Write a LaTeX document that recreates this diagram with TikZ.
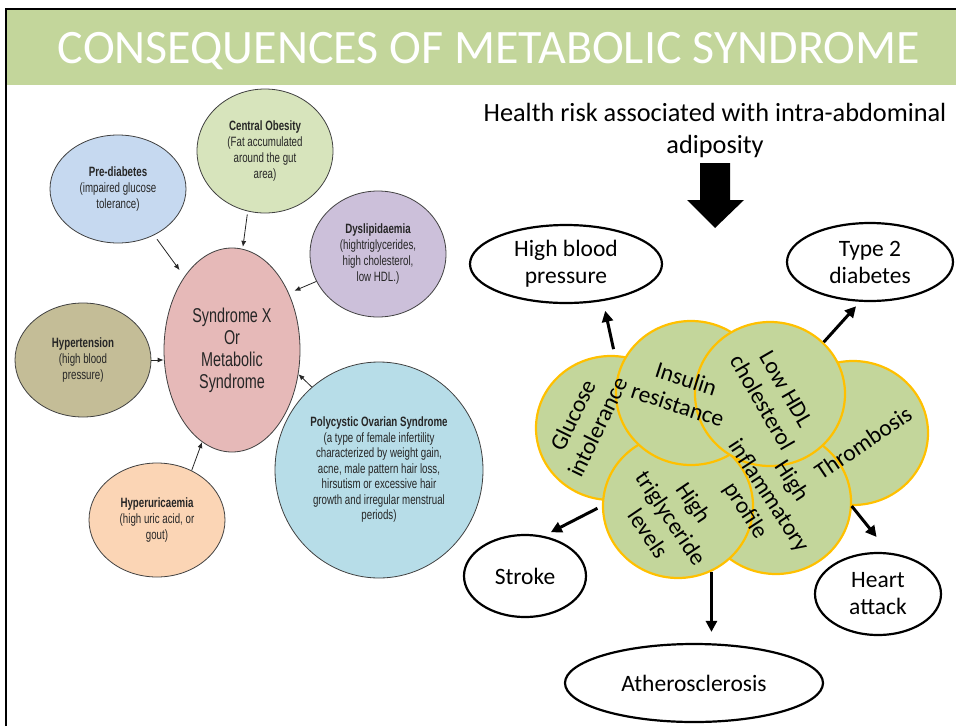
\documentclass[tikz,border=0pt]{standalone}
\usepackage{fontspec}
\setmainfont{Carlito}
\newfontfamily\narrowfont[FakeStretch=0.72]{Liberation Sans}
\usetikzlibrary{arrows.meta,shapes.geometric}
\definecolor{titlegreen}{HTML}{C3D69B}
\definecolor{blobfill}{HTML}{C3D69B}
\definecolor{blobline}{HTML}{FFC000}
\definecolor{cpre}{HTML}{C6D9F0}
\definecolor{cco}{HTML}{D7E4BC}
\definecolor{cdys}{HTML}{CCC0DA}
\definecolor{csyn}{HTML}{E6B9B8}
\definecolor{chyp}{HTML}{C4BD97}
\definecolor{chyu}{HTML}{FBD5B5}
\definecolor{cpco}{HTML}{B7DDE8}
\tikzset{
  leftell/.style={ellipse, draw=black!75, line width=0.8pt, inner sep=0pt, align=center,
    text=black!85, font=\narrowfont\fontsize{13.5}{16}\selectfont},
  outc/.style={ellipse, draw=black, line width=2.2pt, fill=white, inner sep=0pt, align=center,
    font=\fontsize{23.5}{27}\selectfont},
  blob/.style={ellipse, draw=blobline, fill=blobfill, line width=2.2pt,
    minimum width=150pt, minimum height=144pt, inner sep=0pt},
  blobtxt/.style={align=center, font=\fontsize{23.5}{27.5}\selectfont, inner sep=0pt},
  thinarr/.style={-{Latex[length=6pt,width=5pt]}, line width=0.8pt, draw=black!85},
  bigarr/.style={-{Triangle[length=11pt,width=11pt]}, line width=3pt},
}
\begin{document}
\begin{tikzpicture}[x=1pt,y=-1pt]
\useasboundingbox (0,0) rectangle (956,726);
% title bar and frame
\fill[titlegreen] (6,10) rectangle (956,85);
\draw[line width=2pt] (6,726) -- (6,9) -- (956,9);
\node[text=white, anchor=base, inner sep=0pt, font=\fontsize{48}{50}\selectfont] (title) at (489,63) {CONSEQUENCES OF METABOLIC SYNDROME};

% left diagram
\node[leftell, fill=cpre, minimum width=136pt, minimum height=108pt] (pre) at (118,189)
  {\textbf{Pre-diabetes}\\(impaired glucose\\tolerance)};
\node[leftell, fill=cco, minimum width=136pt, minimum height=124pt] (co) at (265,151)
  {\textbf{Central Obesity}\\(Fat accumulated\\around the gut\\area)};
\node[leftell, fill=cdys, minimum width=136pt, minimum height=126pt] (dys) at (378,254)
  {\textbf{Dyslipidaemia}\\(hightriglycerides,\\high cholesterol,\\low HDL.)};
\node[leftell, fill=csyn, minimum width=136pt, minimum height=204pt,
  font=\narrowfont\fontsize{20}{22}\selectfont] (syn) at (232,350)
  {Syndrome X\\Or\\Metabolic\\Syndrome};
\node[leftell, fill=chyp, minimum width=136pt, minimum height=114pt] (hyp) at (83,360)
  {\textbf{Hypertension}\\(high blood\\pressure)};
\node[leftell, fill=chyu, minimum width=136pt, minimum height=114pt] (hyu) at (157,520)
  {\textbf{Hyperuricaemia}\\(high uric acid, or\\gout)};
\node[leftell, fill=cpco, minimum width=208pt, minimum height=216pt,
  font=\narrowfont\fontsize{13.5}{15.5}\selectfont] (pco) at (379,470)
  {\textbf{Polycystic Ovarian Syndrome}\\(a type of female infertility\\characterized by weight gain,\\acne, male pattern hair loss,\\hirsutism or excessive hair\\growth and irregular menstrual\\periods)};

\draw[thinarr, shorten <=5pt, shorten >=8pt] (pre.-52) -- (syn.123);
\draw[thinarr, shorten <=3pt, shorten >=2pt] (co.-106) -- (syn.84);
\draw[thinarr, shorten >=6pt] (dys.204) -- (syn.45);
\draw[thinarr] (hyp.0) -- (hyp.0 -| syn.west);
\draw[thinarr] (hyu.55) -- (syn.-108);
\draw[thinarr] (pco.129) -- (syn.-20);

% right diagram
\node[align=center, inner sep=0pt, font=\fontsize{26.3}{32}\selectfont] (risk) at (715,130)
  {Health risk associated with intra-abdominal\\adiposity};
\fill (700,163) -- (730,163) -- (730,200) -- (744,200) -- (715,228) -- (687,200) -- (700,200) -- cycle;

\node[outc, minimum width=192pt, minimum height=78pt] (hbp) at (566,264) {High blood\\pressure};
\node[outc, minimum width=166pt, minimum height=78pt] (t2d) at (870,262) {Type 2\\diabetes};
\node[outc, minimum width=122pt, minimum height=82pt] (stroke) at (525,576) {Stroke};
\node[outc, minimum width=126pt, minimum height=82pt] (heart) at (878,594) {Heart\\attack};
\node[outc, minimum width=258pt, minimum height=78pt] (ath) at (694,683) {Atherosclerosis};

\node[blob] (glu) at (611,428) {};
\node[blob] (thr) at (853,433) {};
\node[blob] (inf) at (776,502) {};
\node[blob] (tri) at (678,506) {};
\node[blob] (ins) at (691,393) {};
\node[blob] (hdl) at (770,394) {};

\node[blobtxt, rotate=64] (glut) at (585,421) {Glucose\\intolerance};
\node[blobtxt, rotate=-18] (inst) at (682,392) {Insulin\\resistance};
\node[blobtxt, rotate=-60] (hdlt) at (774,396) {Low HDL\\cholesterol};
\node[blobtxt, rotate=34] (thrt) at (863,443) {Thrombosis};
\node[blobtxt, rotate=-57] (inft) at (768,496) {High\\inflammatory\\profile};
\node[blobtxt, rotate=-56] (trit) at (671,518) {High\\triglyceride\\levels};

\draw[bigarr, shorten <=6pt, shorten >=10pt] (glu.87) -- (hbp.-45);
\draw[bigarr, shorten >=6pt] (hdl.44) -- (t2d.-104);
\draw[bigarr, shorten <=5pt, shorten >=8pt] (tri.180) -- (stroke.65);
\draw[bigarr, shorten >=20pt] (thr.-91) -- (heart.75);
\draw[bigarr, shorten >=11pt] (tri.-63) -- (tri.-63 |- ath.north);
\end{tikzpicture}
\end{document}
